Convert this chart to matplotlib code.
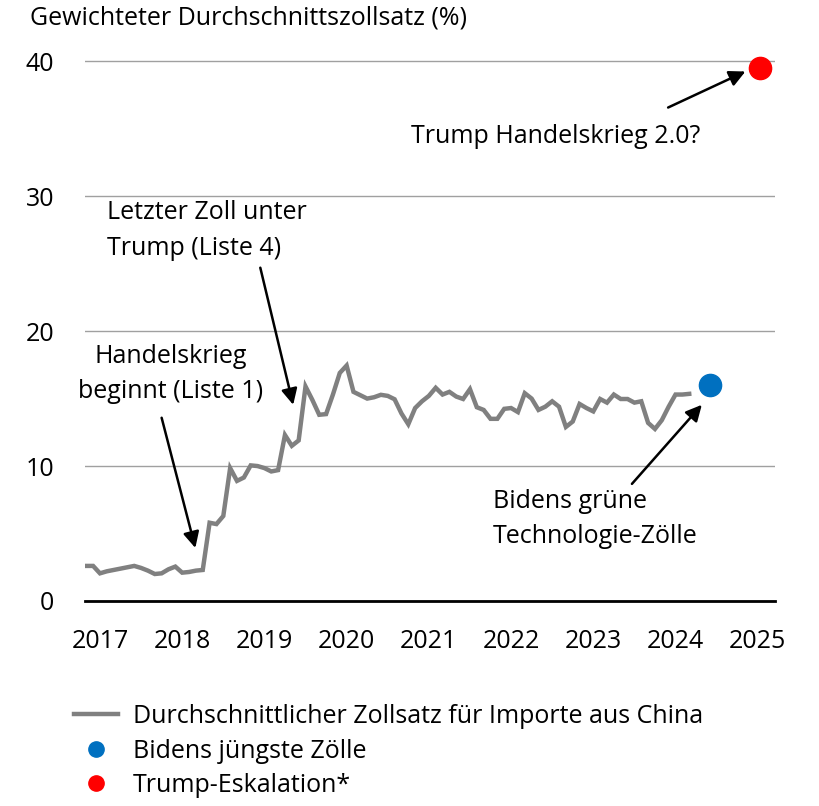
import matplotlib
matplotlib.use("Agg")
import matplotlib.pyplot as plt
from matplotlib.lines import Line2D

plt.rcParams['font.family'] = ['Open Sans', 'DejaVu Sans']

# ---- data ----
start_year = 2016 + 10/12   # Nov 2016, monthly
tariff_rate = [2.6, 2.6, 2.05, 2.2, 2.3, 2.4, 2.5, 2.6, 2.45, 2.25,
               2.0, 2.05, 2.35, 2.55, 2.1, 2.15, 2.25, 2.3, 5.8, 5.7,
               6.3, 9.85, 8.9, 9.15, 10.05, 10.0, 9.85, 9.6, 9.7, 12.3,
               11.5, 11.9, 15.9, 14.9, 13.8, 13.85, 15.3, 16.9, 17.45, 15.5,
               15.25, 15.0, 15.1, 15.28, 15.2, 14.95, 13.9, 13.1, 14.3, 14.8,
               15.2, 15.8, 15.3, 15.5, 15.15, 14.97, 15.7, 14.36, 14.16, 13.5,
               13.5, 14.24, 14.3, 14.0, 15.4, 15.0, 14.16, 14.4, 14.8, 14.4,
               12.9, 13.3, 14.6, 14.3, 14.05, 14.97, 14.7, 15.3, 14.97, 14.97,
               14.7, 14.8, 13.2, 12.75, 13.4, 14.4, 15.3, 15.3, 15.35]
dates = [start_year + i/12 for i in range(len(tariff_rate))]

biden_x, biden_y = [2024 + 5/12], [16.0]
trump_x, trump_y = [2025.03], [39.5]

year_ticks = [2017, 2018, 2019, 2020, 2021, 2022, 2023, 2024, 2025]
y_ticks = [0, 10, 20, 30, 40]

title = "Gewichteter Durchschnittszollsatz (%)"
legend_labels = ["Durchschnittlicher Zollsatz für Importe aus China",
                 "Bidens jüngste Zölle", "Trump-Eskalation*"]

GREY = "#808080"
BLUE = "#0070C0"
RED = "#FF0000"
FS = 18

fig = plt.figure(figsize=(8.2, 8.06), dpi=100)
ax = fig.add_axes([85/820, 1 - 601/806, (775-85)/820, (601-41)/806])

ax.plot(dates, tariff_rate, color=GREY, lw=3.2, solid_joinstyle='miter', zorder=3)
ax.plot(biden_x, biden_y, 'o', color=BLUE, ms=16, zorder=4)
ax.plot(trump_x, trump_y, 'o', color=RED, ms=16, zorder=4)

ax.set_xlim(2016.818, 2025.21)
ax.set_ylim(0, 41.5)
ax.set_xticks(year_ticks)
ax.set_xticklabels([str(y) for y in year_ticks])
ax.set_yticks(y_ticks)
ax.set_yticklabels([str(y) for y in y_ticks])
ax.tick_params(axis='both', length=0, labelsize=FS)
ax.tick_params(axis='x', pad=20)
ax.tick_params(axis='y', pad=22)
for t in ax.get_yticklabels():
    t.set_horizontalalignment('right')

for s in ['top', 'right', 'left']:
    ax.spines[s].set_visible(False)
ax.spines['bottom'].set_linewidth(2)
ax.spines['bottom'].set_color('black')
ax.grid(axis='y', color='#A0A0A0', lw=1)
ax.set_axisbelow(True)

fig.text(30/820, 1 - 18/806, title, fontsize=FS, va='center', ha='left')

arrow = dict(arrowstyle='-|>', mutation_scale=24, lw=1.8, color='black',
             shrinkA=0, shrinkB=0)

ax.annotate("", xy=(2024.85, 39.24), xytext=(2023.91, 36.57), arrowprops=arrow)
ax.text(2022.54, 34.4, "Trump Handelskrieg 2.0?", fontsize=FS, ha='center', va='center')

ax.annotate("", xy=(2019.35, 14.54), xytext=(2018.95, 24.7), arrowprops=arrow)
ax.text(2017.085, 27.45, "Letzter Zoll unter\nTrump (Liste 4)", fontsize=FS,
        ha='left', va='center', linespacing=1.55)

ax.annotate("", xy=(2018.16, 3.93), xytext=(2017.75, 13.58), arrowprops=arrow)
ax.text(2017.86, 16.84, "Handelskrieg\nbeginnt (Liste 1)", fontsize=FS,
        ha='center', va='center', linespacing=1.55)

ax.annotate("", xy=(2024.32, 14.54), xytext=(2023.47, 8.68), arrowprops=arrow)
ax.text(2021.78, 6.08, "Bidens grüne\nTechnologie-Zölle", fontsize=FS,
        ha='left', va='center', linespacing=1.55)

handles = [Line2D([0], [0], color=GREY, lw=3.2),
           Line2D([0], [0], marker='o', color=BLUE, lw=0, ms=11),
           Line2D([0], [0], marker='o', color=RED, lw=0, ms=11)]
fig.legend(handles, legend_labels, loc='upper left',
           bbox_to_anchor=(74/820, 1 - 704/806), frameon=False, fontsize=FS,
           handlelength=1.75, handletextpad=0.6, labelspacing=0.38,
           borderaxespad=0, borderpad=0)

fig.savefig("out.png", dpi=100)
